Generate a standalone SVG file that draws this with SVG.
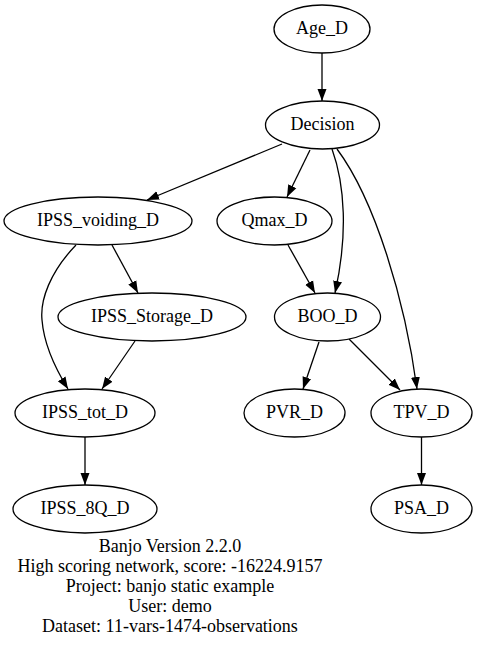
<svg xmlns="http://www.w3.org/2000/svg" width="477" height="649" viewBox="0 0 477 649" font-family="'Liberation Serif','Times New Roman',serif">
<defs>
<style>
.n ellipse{fill:#fff;stroke:#000;stroke-width:1.3}
.t{font-family:'Liberation Serif','Times New Roman',serif;font-size:18px;fill:#000;text-anchor:middle}
.e path{fill:none;stroke:#000;stroke-width:1.3;marker-end:url(#ah)}
</style>
<marker id="ah" markerUnits="userSpaceOnUse" markerWidth="12" markerHeight="10" refX="12" refY="5" orient="auto" viewBox="0 0 12 10">
<path d="M0,0.5 L12,5 L0,9.5 z" fill="#000"/>
</marker>
</defs>
<rect width="477" height="649" fill="#fff"/>
<g class="e" id="connectors">
<path d="M322,53 L322,101"/>
<path d="M282,144 L147,200"/>
<path d="M310,150 L287,197"/>
<path d="M332,149 C345,185 348,235 335,293"/>
<path d="M337,149 C375,200 405,300 417,389"/>
<path d="M112,245 L138,293"/>
<path d="M76,245 C50,272 40,300 42,320 C44,345 55,368 68,389"/>
<path d="M135,341 L102,389"/>
<path d="M288,245 L315,293"/>
<path d="M319,342 L303,389"/>
<path d="M349,339 L400,390"/>
<path d="M85,437 L85,485"/>
<path d="M421.5,437 L421.5,485"/>
</g>
<g class="n" id="Age_D"><ellipse cx="322" cy="29" rx="48" ry="24"/><text class="t" x="322" y="34">Age_D</text></g>
<g class="n" id="Decision"><ellipse cx="322.5" cy="125" rx="57" ry="24"/><text class="t" x="322.5" y="130">Decision</text></g>
<g class="n" id="IPSS_voiding_D"><ellipse cx="98" cy="221" rx="94" ry="24"/><text class="t" x="98" y="226">IPSS_voiding_D</text></g>
<g class="n" id="Qmax_D"><ellipse cx="274.5" cy="221" rx="57.5" ry="24"/><text class="t" x="274.5" y="226">Qmax_D</text></g>
<g class="n" id="IPSS_Storage_D"><ellipse cx="152" cy="317" rx="94" ry="24"/><text class="t" x="152" y="322">IPSS_Storage_D</text></g>
<g class="n" id="BOO_D"><ellipse cx="327.5" cy="317" rx="53" ry="24"/><text class="t" x="327.5" y="322">BOO_D</text></g>
<g class="n" id="IPSS_tot_D"><ellipse cx="85" cy="413" rx="70" ry="24"/><text class="t" x="85" y="418">IPSS_tot_D</text></g>
<g class="n" id="PVR_D"><ellipse cx="294.5" cy="413" rx="50.5" ry="24"/><text class="t" x="294.5" y="418">PVR_D</text></g>
<g class="n" id="TPV_D"><ellipse cx="421.5" cy="413" rx="50.5" ry="24"/><text class="t" x="421.5" y="418">TPV_D</text></g>
<g class="n" id="IPSS_8Q_D"><ellipse cx="85" cy="509" rx="72" ry="24"/><text class="t" x="85" y="514">IPSS_8Q_D</text></g>
<g class="n" id="PSA_D"><ellipse cx="421.5" cy="509" rx="50.5" ry="24"/><text class="t" x="421.5" y="514">PSA_D</text></g>
<g id="caption">
<text class="t" x="170" y="552">Banjo Version 2.2.0</text>
<text class="t" x="170" y="572">High scoring network, score: -16224.9157</text>
<text class="t" x="170" y="592">Project: banjo static example</text>
<text class="t" x="170" y="612">User: demo</text>
<text class="t" x="170" y="632">Dataset: 11-vars-1474-observations</text>
</g>
</svg>
